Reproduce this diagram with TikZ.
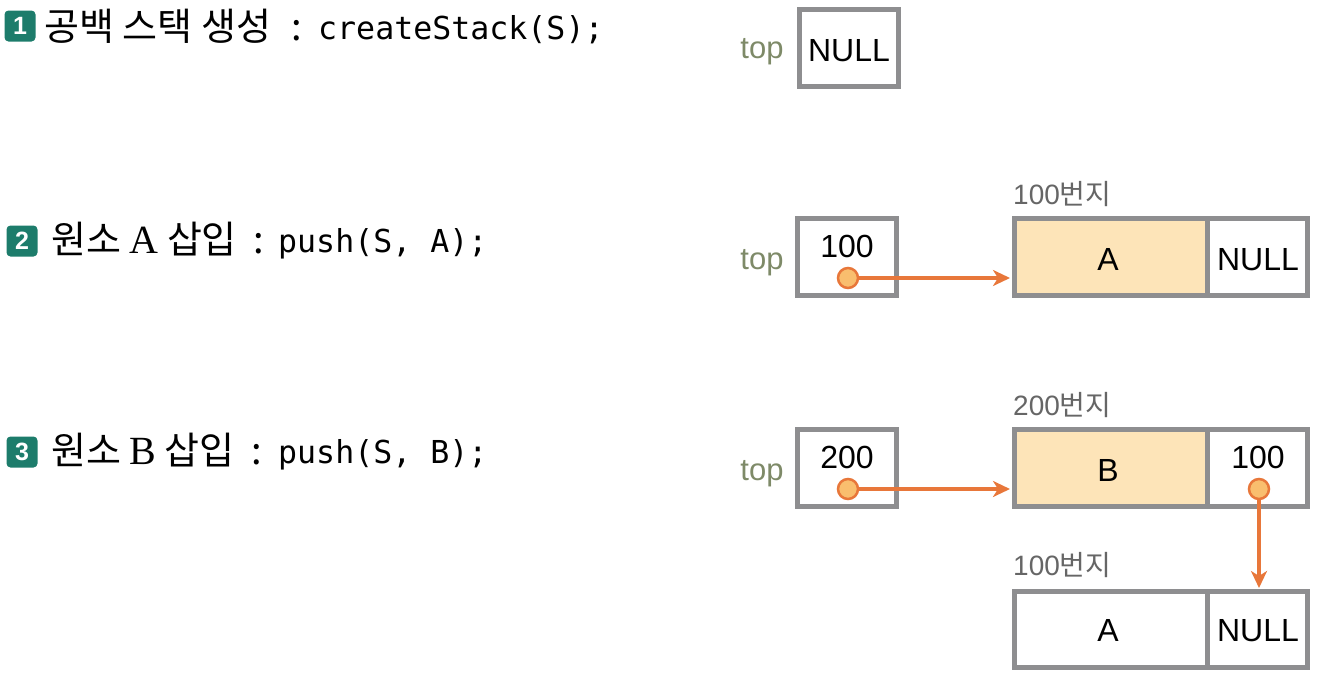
\documentclass[tikz,border=0pt]{standalone}
\usepackage{fontspec}
\setmainfont{Liberation Sans}
\newfontfamily\kr{Noto Sans CJK KR}
\newfontfamily\codefont{DejaVu Sans Mono}
\newfontfamily\serifA{Liberation Serif}
\usetikzlibrary{arrows.meta}
\definecolor{boxgray}{HTML}{8E8E90}
\definecolor{arrowor}{HTML}{E8773A}
\definecolor{dotfill}{HTML}{F9BE6E}
\definecolor{peach}{HTML}{FDE4B8}
\definecolor{teal}{HTML}{1D7C6B}
\definecolor{topcol}{HTML}{7E8A68}
\definecolor{addrcol}{HTML}{666666}
\begin{document}
\begin{tikzpicture}[x=1pt,y=-1pt,
  cell/.style={draw=boxgray,line width=5pt},
  badge/.style={fill=teal,rounded corners=4pt,minimum width=31pt,minimum height=31pt,inner sep=0pt,text=white,font=\fontsize{25}{25}\selectfont\bfseries},
  head/.style={anchor=base west,inner sep=0pt,font=\kr\fontsize{38}{40}\selectfont},
  code/.style={anchor=base west,inner sep=0pt,font=\codefont\fontsize{31.6}{36}\selectfont},
  val/.style={anchor=base,inner sep=0pt,font=\fontsize{32}{36}\selectfont},
  toplbl/.style={anchor=base,inner sep=0pt,text=topcol,font=\fontsize{31}{34}\selectfont},
  addr/.style={anchor=base west,inner sep=0pt,text=addrcol,font=\fontsize{28}{32}\selectfont},
  dot/.style={circle,fill=dotfill,draw=arrowor,line width=2.5pt,minimum size=20pt,inner sep=0pt},
  ptr/.style={draw=arrowor,line width=3.5pt,-{Stealth[length=17pt,width=16pt,inset=5pt]}}]
\useasboundingbox (0,0) rectangle (1320,680);
% ---------- headers ----------
\node[badge] (b1) at (20,26) {1};
\node[head] (h1) at (44,40) {공백 스택 생성\hspace{21pt}:};
\node[code] (c1) at (318,39) {createStack(S);};
\node[badge] (b2) at (22,241) {2};
\node[head] (h2) at (51,253) {원소 {\serifA\fontsize{40}{40}\selectfont A} 삽입\hspace{17pt}:};
\node[code] (c2) at (278,252) {push(S, A);};
\node[badge] (b3) at (22,452) {3};
\node[head] (h3) at (51,464) {원소 {\serifA\fontsize{40}{40}\selectfont B} 삽입\hspace{17pt}:};
\node[code] (c3) at (278,463) {push(S, B);};
% ---------- row 1 ----------
\draw[cell] (799.5,9.5) rectangle (898.5,86.5);
\node[toplbl] (t1) at (762,58) {top};
\node[val] (n1) at (849,61) {NULL};
% ---------- row 2 ----------
\draw[cell] (797.5,218.5) rectangle (896.5,295.5);
\node[toplbl] (t2) at (762,269) {top};
\node[val] (v2) at (847,257) {100};
\fill[peach] (1014.5,218.5) rectangle (1207,295.5);
\draw[cell] (1014.5,218.5) rectangle (1307.5,295.5);
\draw[cell] (1207,218.5) -- (1207,295.5);
\node[val] (a2) at (1108,270) {A};
\node[val] (l2) at (1258,270) {NULL};
\node[addr] (ad2) at (1013,204) {100{\kr 번지}};
\coordinate (e2) at (1010,278);
\node[dot] (d2) at (848,278) {};
\draw[ptr] (d2) -- (e2);
% ---------- row 3 ----------
\draw[cell] (797.5,429.5) rectangle (896.5,506.5);
\node[toplbl] (t3) at (762,480) {top};
\node[val] (v3) at (847,468) {200};
\fill[peach] (1014.5,429.5) rectangle (1207,506.5);
\draw[cell] (1014.5,429.5) rectangle (1307.5,506.5);
\draw[cell] (1207,429.5) -- (1207,506.5);
\node[val] (a3) at (1108,481) {B};
\node[val] (l3) at (1258,468) {100};
\node[addr] (ad3) at (1013,415) {200{\kr 번지}};
\coordinate (e3) at (1010,489);
\node[dot] (d3) at (848,489) {};
\draw[ptr] (d3) -- (e3);
% ---------- bottom node ----------
\draw[cell] (1014.5,591.5) rectangle (1307.5,667.5);
\draw[cell] (1207,591.5) -- (1207,667.5);
\node[val] (a4) at (1108,641) {A};
\node[val] (l4) at (1258,641) {NULL};
\node[addr] (ad4) at (1013,575) {100{\kr 번지}};
\coordinate (e4) at (1259,588);
\node[dot] (d4) at (1259,489) {};
\draw[ptr] (d4) -- (e4);
\end{tikzpicture}
\end{document}
